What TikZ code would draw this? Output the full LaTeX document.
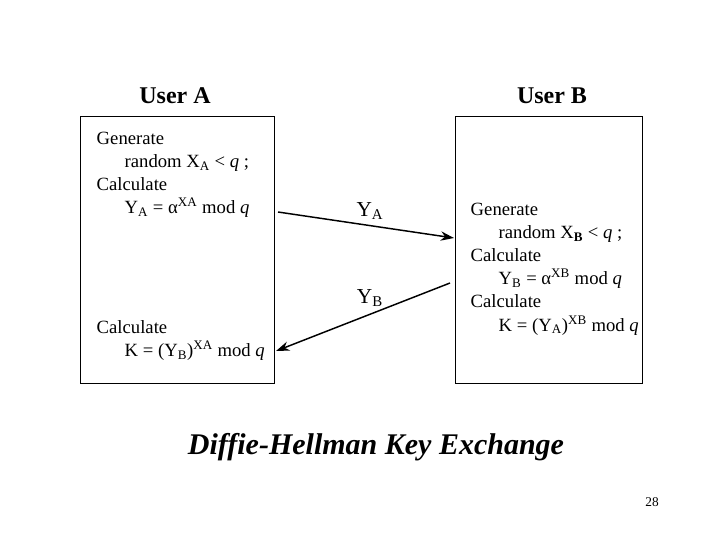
\documentclass[tikz,border=0pt]{standalone}
\usepackage{fontspec}
\setmainfont{Liberation Serif}
\usetikzlibrary{arrows.meta,positioning}
\tikzset{
    user box/.style={draw, thick, minimum height=200pt, inner sep=0pt},
    user title/.style={font=\fontsize{18}{21}\selectfont\bfseries},
    step text/.style={align=left, inner sep=0pt, font=\fontsize{14}{17.4}\selectfont},
    msg/.style={font=\fontsize{16}{19}\selectfont}
}
\begin{document}
\begin{tikzpicture}[x=0.75pt, y=-0.75pt, >={Stealth[length=10pt,width=7pt]}, line width=1.1pt]
\useasboundingbox (0,0) rectangle (720,540);
% the two parties
\node[user box, minimum width=146pt] (boxA) at (177.5,250) {};
\node[user box, minimum width=140pt] (boxB) at (549,250) {};
\node[user title] (titleA) at (175,96) {User A};
\node[user title] (titleB) at (552,96) {User B};

% steps of user A
\node[step text, anchor=north west] (stepsA) at (96,131)
  {Generate\\\hspace{1.5em}random X\textsubscript{A} < \textit{q} ;\\Calculate\\\hspace{1.5em}Y\textsubscript{A} = α\textsuperscript{XA} mod \textit{q}};
\node[step text, anchor=north west] (keyA) at (96,320)
  {Calculate\\\hspace{1.5em}K = (Y\textsubscript{B})\textsuperscript{XA} mod \textit{q}};
% steps of user B
\node[step text, anchor=north west] (stepsB) at (470,202)
  {Generate\\\hspace{1.5em}random X\textsubscript{\textbf{B}} < \textit{q} ;\\Calculate\\\hspace{1.5em}Y\textsubscript{B} = α\textsuperscript{XB} mod \textit{q}\\Calculate\\\hspace{1.5em}K = (Y\textsubscript{A})\textsuperscript{XB} mod \textit{q}};

% messages
\coordinate (sendA) at (278,212);
\coordinate (recvB) at (454,238);
\coordinate (sendB) at (450,283);
\coordinate (recvA) at (276,351);
\draw[->] (sendA) -- (recvB);
\draw[->] (sendB) -- (recvA);
\node[msg] (msgA) at (370,211) {Y\textsubscript{A}};
\node[msg] (msgB) at (370,298) {Y\textsubscript{B}};

\node[font=\fontsize{22.5}{26}\selectfont\bfseries\itshape] (caption) at (376,447) {Diffie-Hellman Key Exchange};
\node[font=\fontsize{10}{12}\selectfont] (page) at (652,502) {28};
\end{tikzpicture}
\end{document}
